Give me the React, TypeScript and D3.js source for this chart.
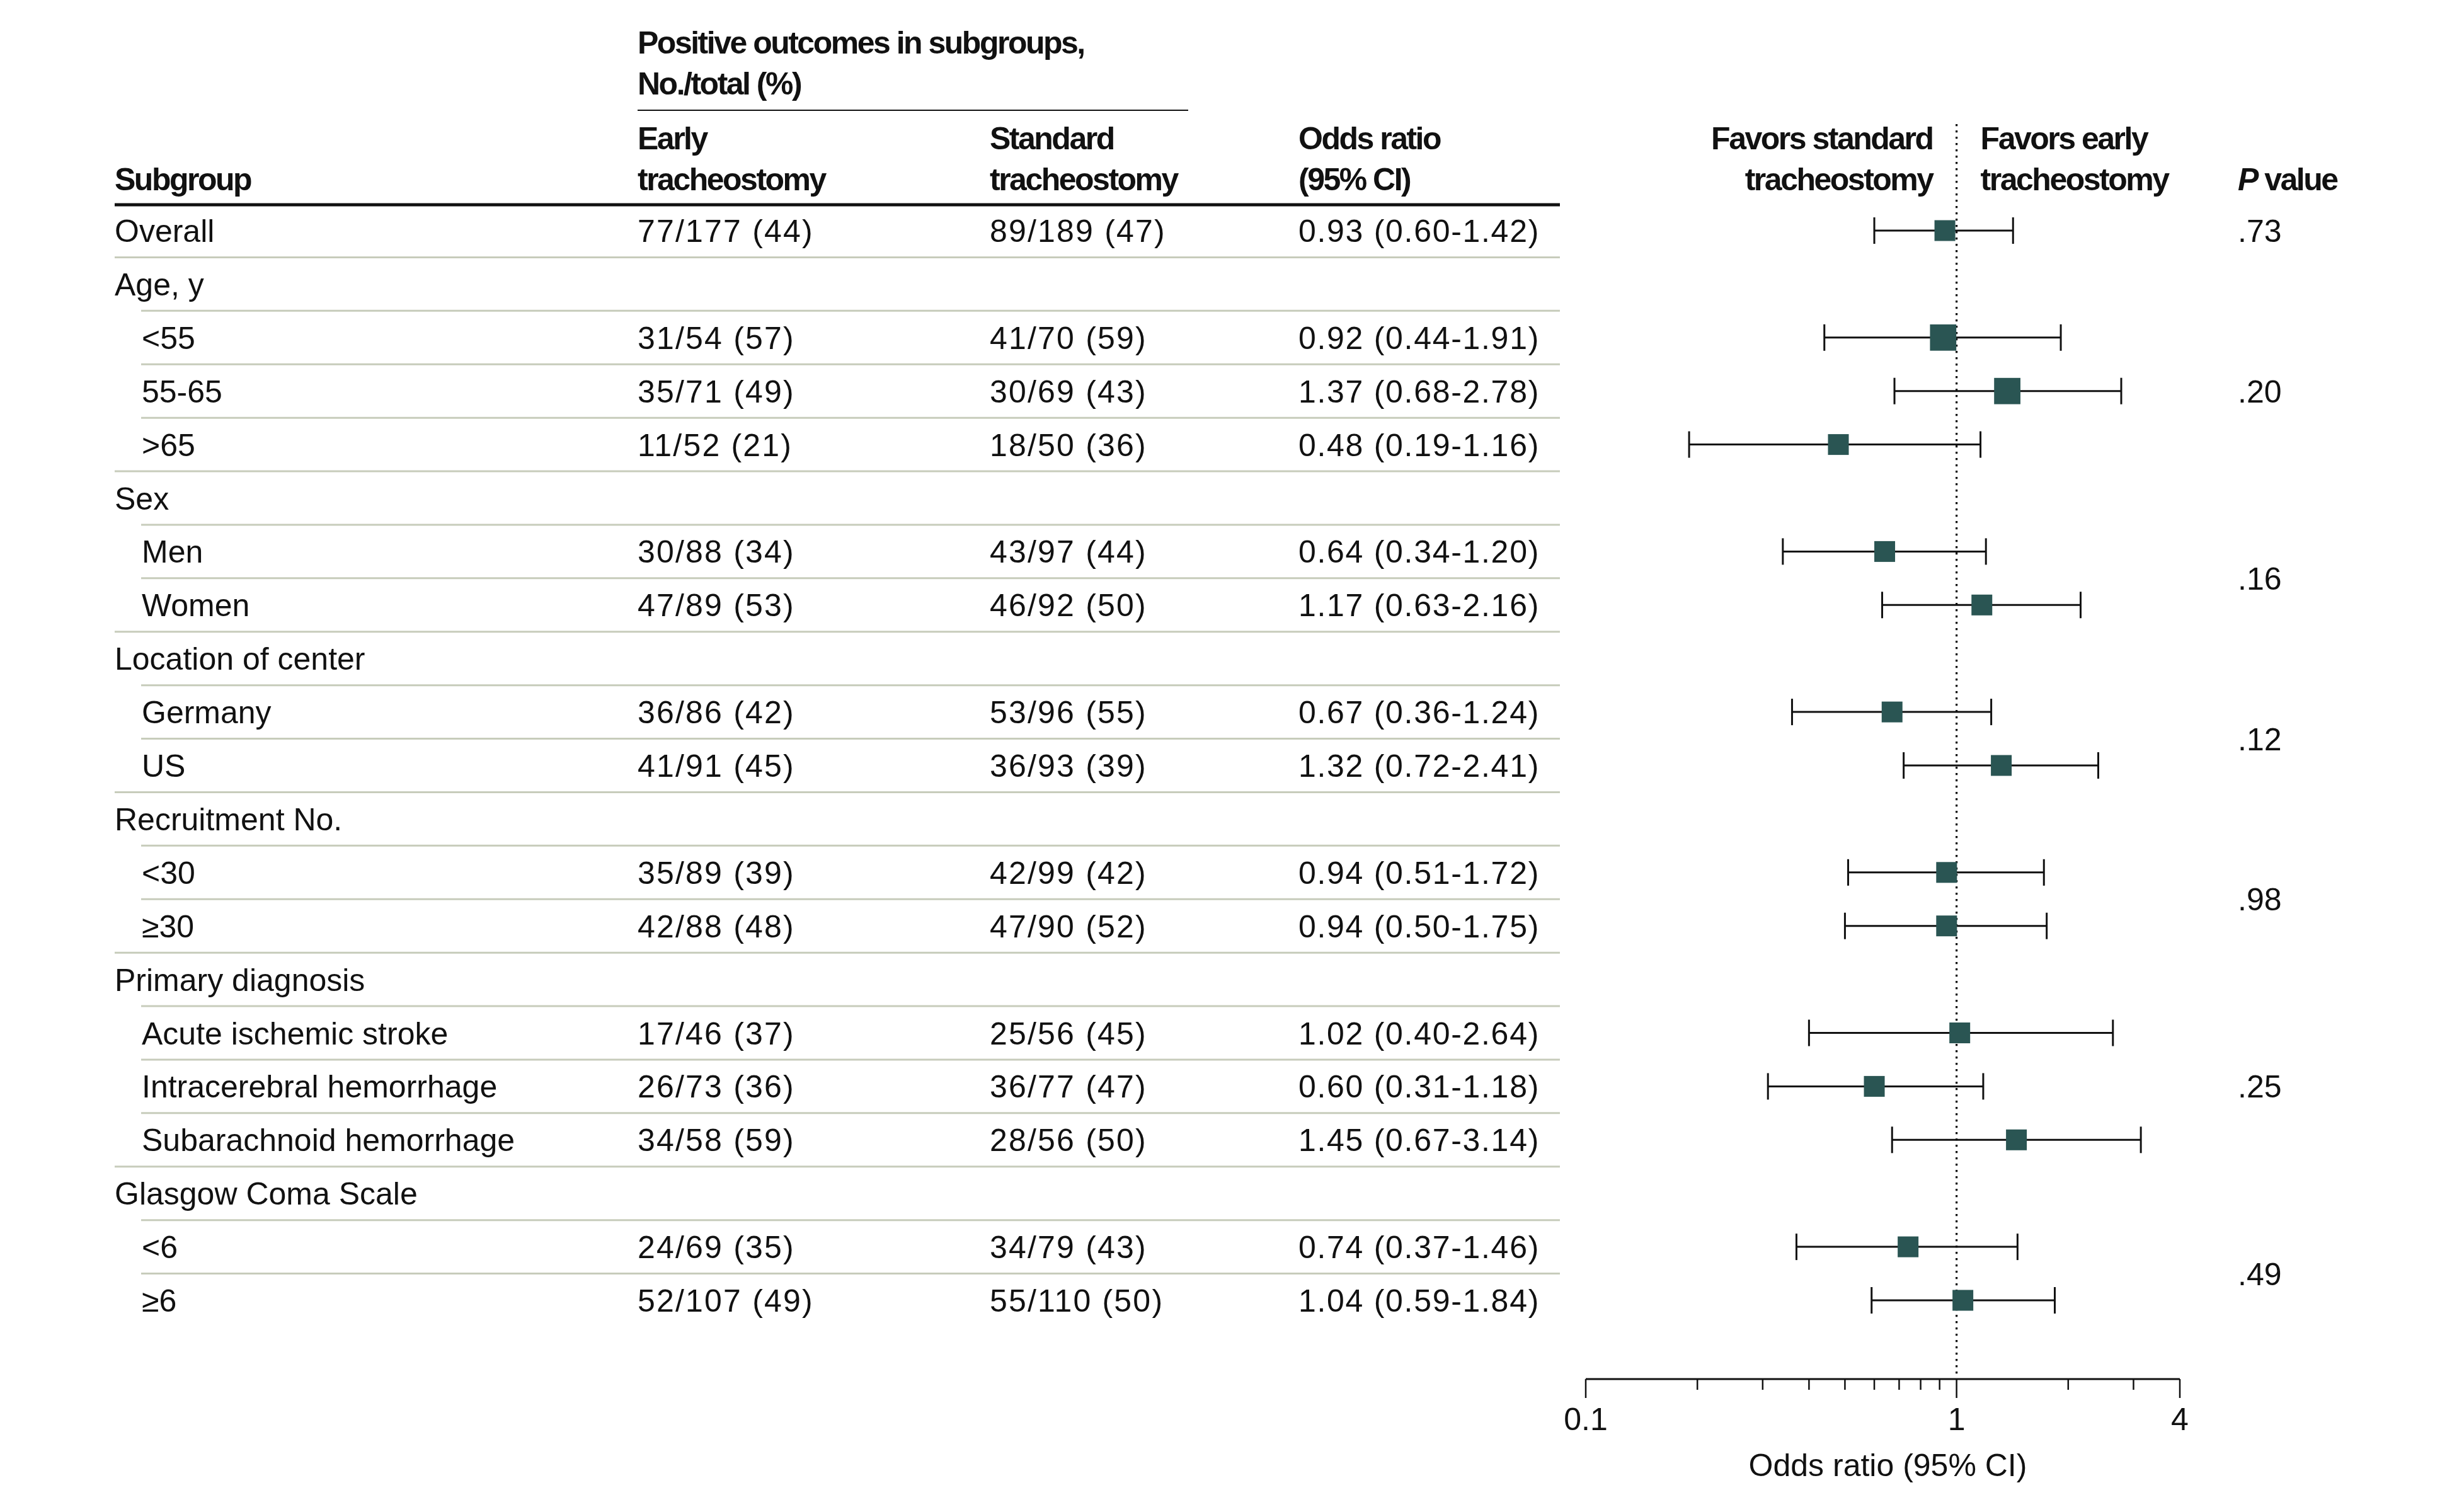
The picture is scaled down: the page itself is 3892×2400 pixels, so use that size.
import { useEffect, useRef } from 'react';
import * as d3 from 'd3';

// rows of the forest plot, top to bottom
const subgroups = [
  'Overall',
  'Age, y', '<55', '55-65', '>65',
  'Sex', 'Men', 'Women',
  'Location of center', 'Germany', 'US',
  'Recruitment No.', '<30', '≥30',
  'Primary diagnosis', 'Acute ischemic stroke', 'Intracerebral hemorrhage', 'Subarachnoid hemorrhage',
  'Glasgow Coma Scale', '<6', '≥6',
];
const indented = [
  false,
  false, true, true, true,
  false, true, true,
  false, true, true,
  false, true, true,
  false, true, true, true,
  false, true, true,
];
const earlyOutcomes = [
  '77/177 (44)',
  '', '31/54 (57)', '35/71 (49)', '11/52 (21)',
  '', '30/88 (34)', '47/89 (53)',
  '', '36/86 (42)', '41/91 (45)',
  '', '35/89 (39)', '42/88 (48)',
  '', '17/46 (37)', '26/73 (36)', '34/58 (59)',
  '', '24/69 (35)', '52/107 (49)',
];
const standardOutcomes = [
  '89/189 (47)',
  '', '41/70 (59)', '30/69 (43)', '18/50 (36)',
  '', '43/97 (44)', '46/92 (50)',
  '', '53/96 (55)', '36/93 (39)',
  '', '42/99 (42)', '47/90 (52)',
  '', '25/56 (45)', '36/77 (47)', '28/56 (50)',
  '', '34/79 (43)', '55/110 (50)',
];
const oddsRatios = [0.93, null, 0.92, 1.37, 0.48, null, 0.64, 1.17, null, 0.67, 1.32, null, 0.94, 0.94, null, 1.02, 0.6, 1.45, null, 0.74, 1.04];
const ciLower = [0.6, null, 0.44, 0.68, 0.19, null, 0.34, 0.63, null, 0.36, 0.72, null, 0.51, 0.5, null, 0.4, 0.31, 0.67, null, 0.37, 0.59];
const ciUpper = [1.42, null, 1.91, 2.78, 1.16, null, 1.2, 2.16, null, 1.24, 2.41, null, 1.72, 1.75, null, 2.64, 1.18, 3.14, null, 1.46, 1.84];
const weights = [1, null, 1.6, 1.6, 1, null, 1, 1, null, 1, 1, null, 1, 1, null, 1, 1, 1, null, 1, 1];

// P values and the row (index) they sit against
const pValues = ['.73', '.20', '.16', '.12', '.98', '.25', '.49'];
const pValueRows = [0, 3, 6.5, 9.5, 12.5, 16, 19.5];

const axisTicks = [0.1, 0.2, 0.3, 0.4, 0.5, 0.6, 0.7, 0.8, 0.9, 1, 2, 3, 4];
const axisLabels = [0.1, 1, 4];

const FONT = '"Liberation Sans", Arial, sans-serif';
const MARKER = '#2a5553';
const RULE = '#c7ccbb';

function App() {
  const svgRef = useRef();

  useEffect(() => {
    const width = 3892;
    const height = 2400;
    const fs = 50;

    const svg = d3.select(svgRef.current);
    svg.selectAll('*').remove();
    svg.attr('width', width).attr('height', height).attr('viewBox', `0 0 ${width} ${height}`)
      .style('font-family', FONT);

    const y = d3.scaleLinear().domain([0, subgroups.length - 1]).range([366, 2064]);
    const x = d3.scaleLog().domain([0.1, 4]).range([2517, 3460]);
    const size = d3.scaleSqrt().domain([0, 1]).range([0, 33]);

    const colLabel = 182;
    const colIndent = 225;
    const colEarly = 1012;
    const colStd = 1571;
    const colOR = 2061;
    const colP = 3552;
    const tableRight = 2476;
    const textOffset = 18;

    const g = svg.append('g');

    // header (bold face is narrower in the original)
    const head = g.append('g').attr('font-weight', 'bold').attr('font-size', fs).attr('fill', '#111')
      .attr('letter-spacing', -2.5);
    head.append('text').attr('x', colEarly).attr('y', 85).text('Positive outcomes in subgroups,');
    head.append('text').attr('x', colEarly).attr('y', 150).text('No./total (%)');
    g.append('line').attr('x1', colEarly).attr('x2', 1886).attr('y1', 175).attr('y2', 175)
      .attr('stroke', '#111').attr('stroke-width', 2);

    head.append('text').attr('x', colLabel).attr('y', 302).text('Subgroup');
    head.append('text').attr('x', colEarly).attr('y', 237).text('Early');
    head.append('text').attr('x', colEarly).attr('y', 302).text('tracheostomy');
    head.append('text').attr('x', colStd).attr('y', 237).text('Standard');
    head.append('text').attr('x', colStd).attr('y', 302).text('tracheostomy');
    head.append('text').attr('x', colOR).attr('y', 237).text('Odds ratio');
    head.append('text').attr('x', colOR).attr('y', 302).text('(95% CI)');
    head.append('text').attr('x', x(1) - 38).attr('y', 237).attr('text-anchor', 'end').text('Favors standard');
    head.append('text').attr('x', x(1) - 38).attr('y', 302).attr('text-anchor', 'end').text('tracheostomy');
    head.append('text').attr('x', x(1) + 38).attr('y', 237).text('Favors early');
    head.append('text').attr('x', x(1) + 38).attr('y', 302).text('tracheostomy');
    const pv = head.append('text').attr('x', colP).attr('y', 302);
    pv.append('tspan').attr('font-style', 'italic').text('P');
    pv.append('tspan').text(' value');

    g.append('line').attr('x1', colLabel).attr('x2', tableRight).attr('y1', 325).attr('y2', 325)
      .attr('stroke', '#111').attr('stroke-width', 5);

    // row rules
    const step = y(1) - y(0);
    subgroups.slice(0, -1).forEach((_, i) => {
      g.append('line')
        .attr('x1', indented[i + 1] ? colIndent - 1 : colLabel)
        .attr('x2', tableRight)
        .attr('y1', y(i) + step / 2).attr('y2', y(i) + step / 2)
        .attr('stroke', RULE).attr('stroke-width', 3);
    });

    // table text
    const body = g.append('g').attr('font-size', fs).attr('fill', '#111');
    subgroups.forEach((label, i) => {
      const ty = y(i) + textOffset;
      body.append('text').attr('x', indented[i] ? colIndent : colLabel).attr('y', ty).text(label);
      if (earlyOutcomes[i]) {
        body.append('text').attr('x', colEarly).attr('y', ty).attr('letter-spacing', 2.2).text(earlyOutcomes[i]);
      }
      if (standardOutcomes[i]) {
        body.append('text').attr('x', colStd).attr('y', ty).attr('letter-spacing', 2.2).text(standardOutcomes[i]);
      }
      if (oddsRatios[i] != null) {
        body.append('text').attr('x', colOR).attr('y', ty).attr('letter-spacing', 1.7)
          .text(`${oddsRatios[i].toFixed(2)} (${ciLower[i].toFixed(2)}-${ciUpper[i].toFixed(2)})`);
      }
    });

    pValues.forEach((p, k) => {
      body.append('text').attr('x', colP).attr('y', y(pValueRows[k]) + textOffset).text(p);
    });

    // reference line at OR = 1
    g.append('line').attr('x1', x(1)).attr('x2', x(1)).attr('y1', 197).attr('y2', 2183)
      .attr('stroke', '#111').attr('stroke-width', 3.2).attr('stroke-dasharray', '3.2 6.8');

    // CIs and markers
    const plot = g.append('g');
    subgroups.forEach((_, i) => {
      if (oddsRatios[i] == null) return;
      const cy = y(i);
      const cap = 21;
      plot.append('line').attr('x1', x(ciLower[i])).attr('x2', x(ciUpper[i])).attr('y1', cy).attr('y2', cy)
        .attr('stroke', '#111').attr('stroke-width', 3);
      [ciLower[i], ciUpper[i]].forEach((v) => {
        plot.append('line').attr('x1', x(v)).attr('x2', x(v)).attr('y1', cy - cap).attr('y2', cy + cap)
          .attr('stroke', '#111').attr('stroke-width', 3);
      });
      const s = size(weights[i]);
      plot.append('rect').attr('x', x(oddsRatios[i]) - s / 2).attr('y', cy - s / 2)
        .attr('width', s).attr('height', s).attr('fill', MARKER);
    });

    // x axis
    const axisY = 2189;
    const axis = g.append('g');
    axis.append('line').attr('x1', x(0.1)).attr('x2', x(4)).attr('y1', axisY).attr('y2', axisY)
      .attr('stroke', '#111').attr('stroke-width', 3);
    axisTicks.forEach((t) => {
      const major = axisLabels.includes(t);
      axis.append('line').attr('x1', x(t)).attr('x2', x(t)).attr('y1', axisY).attr('y2', axisY + (major ? 30 : 17))
        .attr('stroke', '#111').attr('stroke-width', 2.5);
    });
    axis.selectAll('.tl').data(axisLabels).enter().append('text')
      .attr('x', (d) => x(d)).attr('y', 2270).attr('text-anchor', 'middle')
      .attr('font-size', fs).attr('fill', '#111').text((d) => d);
    axis.append('text').attr('x', (x(0.1) + x(4)) / 2 + 8).attr('y', 2343).attr('text-anchor', 'middle')
      .attr('font-size', fs).attr('fill', '#111').text('Odds ratio (95% CI)');
  }, []);

  return (
    <div style={{ position: 'absolute', left: 0, top: 0, background: '#fff' }}>
      <svg ref={svgRef}></svg>
    </div>
  );
}

export default App;
